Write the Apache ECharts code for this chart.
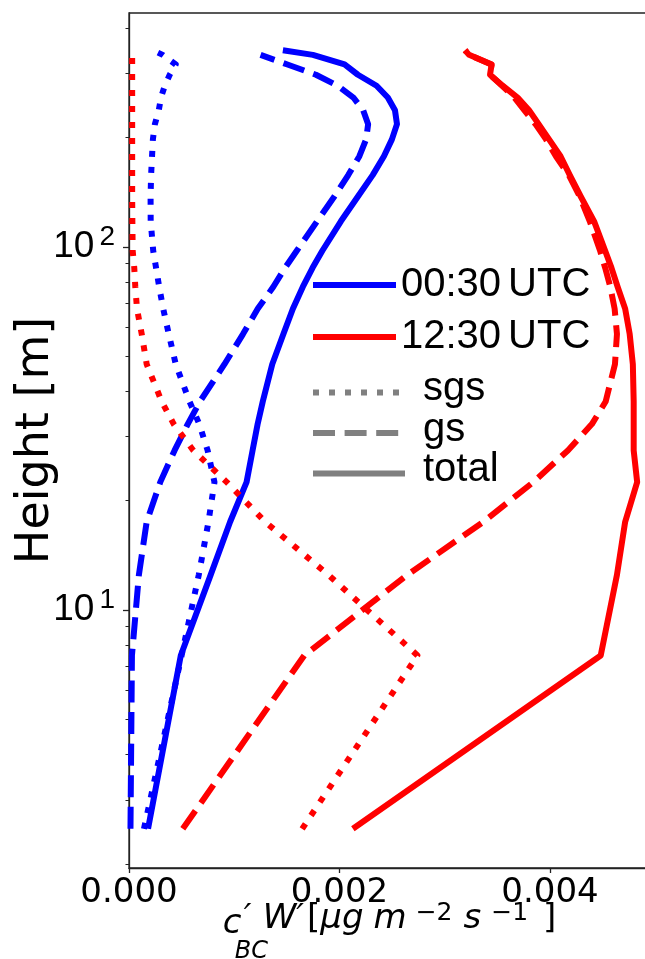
<!DOCTYPE html>
<html>
<head>
<meta charset="utf-8">
<script src="https://cdn.jsdelivr.net/npm/echarts@6/dist/echarts.min.js"></script>
<style>
html,body{margin:0;padding:0;overflow:hidden;background:#fff;}
#c{width:700px;height:959px;}
</style>
</head>
<body>
<div id="c"></div>
<script>
// Heights (m) of the profile levels
const heights = [2.5, 7.5, 12.5, 17.5, 22.5, 27.5, 32.5, 37.5, 47.5, 57.5, 67.5, 77.5, 87.5, 97.5,
  117.5, 137.5, 157.5, 177.5, 197.5, 217.5, 237.5, 257.5, 277.5, 297.5, 317.5, 337.5, 347.5];
// Flux values in units of 1e-3 ug m^-2 s^-1
const blueSgs = [0.142, 0.500, 0.663, 0.755, 0.812, 0.747, 0.668, 0.575, 0.444, 0.378, 0.325, 0.287, 0.257, 0.230,
  0.206, 0.205, 0.210, 0.219, 0.227, 0.246, 0.283, 0.304, 0.340, 0.387, 0.444, 0.320, 0.226];
const blueGs = [0.014, 0.028, 0.094, 0.168, 0.297, 0.433, 0.558, 0.674, 0.907, 1.083, 1.223, 1.370, 1.483, 1.594,
  1.787, 1.951, 2.083, 2.189, 2.253, 2.272, 2.225, 2.132, 1.984, 1.776, 1.505, 1.250, null];
const blueTotal = [0.181, 0.492, 0.776, 0.961, 1.117, 1.174, 1.222, 1.271, 1.361, 1.467, 1.557, 1.651, 1.744, 1.837,
  2.013, 2.175, 2.315, 2.422, 2.498, 2.546, 2.527, 2.459, 2.352, 2.175, 2.048, 1.747, 1.462];
const redSgs = [1.645, 2.741, 1.894, 1.293, 0.929, 0.611, 0.425, 0.311, 0.168, 0.121, 0.076, 0.060, 0.050, 0.035,
  0.032, 0.030, 0.030, 0.030, 0.030, 0.030, 0.030, 0.030, 0.030, 0.030, 0.030, 0.030, null];
const redGs = [0.511, 1.665, 2.645, 3.368, 3.841, 4.170, 4.398, 4.529, 4.617, 4.636, 4.614, 4.573, 4.524, 4.476,
  4.378, 4.282, 4.179, 4.056, 3.962, 3.862, 3.757, 3.662, 3.545, 3.430, 3.445, 3.231, 3.193];
const redTotal = [2.127, 4.482, 4.636, 4.714, 4.828, 4.795, 4.795, 4.795, 4.787, 4.757, 4.714, 4.643, 4.584, 4.524,
  4.419, 4.292, 4.188, 4.100, 3.991, 3.892, 3.801, 3.692, 3.550, 3.430, 3.445, 3.231, 3.193];
const SCALE = 1e-3;

const xTicks = [0, 0.002, 0.004];
const yMajorTicks = [10, 100];
const yMinorTicks = [2, 3, 4, 5, 6, 7, 8, 9, 20, 30, 40, 50, 60, 70, 80, 90, 200, 300, 400];
const timeNames = ['00:30\u2009UTC', '12:30\u2009UTC'];
const kindNames = ['sgs', 'gs', 'total'];

const BLUE = '#0000ff', RED = '#ff0000', GRAY = '#808080';
const LW = 6;
const DOT = [6, 10];
const DASH = [22, 9.6];

function pairs(vals) {
  const out = [];
  heights.forEach((h, i) => { if (vals[i] != null) out.push([vals[i] * SCALE, h]); });
  return out;
}
function mkSeries(name, vals, color, type) {
  return {
    name: name, type: 'line', data: pairs(vals), symbol: 'none', showSymbol: false,
    lineStyle: { color: color, width: LW, type: type, cap: 'butt', join: 'round' },
    itemStyle: { color: color },
    emphasis: { disabled: true }, silent: true
  };
}
function tok(size, h, extra) {
  return Object.assign({ fontFamily: 'DejaVu Sans', fontSize: size, height: h, lineHeight: h, verticalAlign: 'top', align: 'left', color: '#000' }, extra || {});
}

const chart = echarts.init(document.getElementById('c'), null, { renderer: 'canvas' });
const option = {
  animation: false,
  backgroundColor: '#fff',
  grid: { left: 129, right: 50, top: 13, bottom: 91, containLabel: false, outerBoundsMode: 'none',
    show: true, borderColor: '#222', borderWidth: 1.3, backgroundColor: 'transparent' },
  xAxis: {
    type: 'value', min: 0, max: 0.00495,
    axisLine: { show: true, onZero: false, lineStyle: { color: '#222', width: 1.3 } },
    axisTick: { show: true, length: 5, customValues: xTicks, lineStyle: { color: '#222', width: 1.3 } },
    axisLabel: { customValues: xTicks, formatter: v => v.toFixed(3), color: '#000', fontFamily: 'DejaVu Sans', fontSize: 34, margin: 8 },
    splitLine: { show: false },
    name: '{c|c}{sub|BC}{p|\u2032}{W|W\u2032}{lb|[}{mu|\u03bcg}{m|m}{s2|\u22122}{s|s}{s1|\u22121}{rb|]}',
    nameLocation: 'middle', nameGap: 31, nameMoveOverlap: false,
    nameTextStyle: {
      color: '#000', fontFamily: 'DejaVu Sans', fontSize: 34,
      rich: {
        c: tok(34, 51, { fontStyle: 'italic', width: 12 }),
        sub: tok(24, 106, { fontStyle: 'italic', width: 0 }),
        p: tok(34, 40, { fontStyle: 'italic', width: 19, padding: [0, 0, 0, 9] }),
        W: tok(34, 40, { fontStyle: 'italic' }),
        lb: tok(34, 40, { padding: [0, 0, 0, 3] }),
        mu: tok(34, 40, { fontStyle: 'italic' }),
        m: tok(34, 40, { fontStyle: 'italic', padding: [0, 0, 0, 10] }),
        s2: tok(25, 29, { padding: [0, 0, 0, 9] }),
        s: tok(34, 40, { fontStyle: 'italic', padding: [0, 0, 0, 11] }),
        s1: tok(25, 29, { padding: [0, 0, 0, 10] }),
        rb: tok(34, 40, { padding: [0, 0, 0, 15] })
      }
    }
  },
  yAxis: [
    {
      type: 'log', logBase: 10, min: 1.95, max: 440, position: 'left',
      axisLine: { show: true, onZero: false, lineStyle: { color: '#222', width: 1.3 } },
      axisTick: { show: true, length: 6, customValues: yMajorTicks, lineStyle: { color: '#222', width: 1.3 } },
      axisLabel: {
        customValues: yMajorTicks, margin: 14,
        formatter: v => '{b|10}{s|' + Math.round(Math.log10(v)) + '}',
        rich: {
          b: { fontFamily: 'Liberation Sans', fontSize: 37, height: 45, lineHeight: 45, verticalAlign: 'top', color: '#000' },
          s: { fontFamily: 'Liberation Sans', fontSize: 28, height: 26, lineHeight: 26, verticalAlign: 'top', color: '#000', padding: [0, 0, 0, 5] }
        }
      },
      splitLine: { show: false }, minorTick: { show: false },
      name: 'Height [m]', nameLocation: 'middle', nameGap: 70, nameMoveOverlap: false,
      nameTextStyle: { color: '#000', fontFamily: 'DejaVu Sans', fontSize: 46 }
    },
    {
      type: 'log', logBase: 10, min: 1.95, max: 440, position: 'left', offset: 0,
      axisLine: { show: false },
      axisTick: { show: true, length: 3.5, customValues: yMinorTicks, lineStyle: { color: '#222', width: 1 } },
      axisLabel: { show: false },
      splitLine: { show: false }
    }
  ],
  legend: [
    {
      data: timeNames, orient: 'vertical', left: 305, top: 260,
      itemWidth: 83, itemHeight: 40, itemGap: 12, selectedMode: false,
      itemStyle: { opacity: 0, borderWidth: 0 },
      lineStyle: { width: LW, opacity: 1 },
      formatter: n => '{t|' + n.replace('\u2009', '}{sp| }{t|') + '}',
      textStyle: { color: '#000', fontFamily: 'Liberation Sans', fontSize: 40,
        rich: { t: { fontFamily: 'Liberation Sans', fontSize: 40, color: '#000' },
                sp: { fontFamily: 'Liberation Sans', fontSize: 40, width: 7 } } }
    },
    {
      data: kindNames, orient: 'vertical', left: 305, top: 364,
      itemWidth: 92, itemHeight: 40, itemGap: 0.5, selectedMode: false,
      itemStyle: { opacity: 0, borderWidth: 0 },
      lineStyle: { width: LW, opacity: 1 },
      formatter: n => '{t|' + n + '}',
      textStyle: { color: '#000', fontFamily: 'Liberation Sans', fontSize: 40, rich: { t: { fontFamily: 'Liberation Sans', fontSize: 40, color: '#000', padding: [0, 0, 7, 13] } } }
    }
  ],
  series: [
    mkSeries(timeNames[0], blueTotal, BLUE, 'solid'),
    mkSeries('blue gs', blueGs, BLUE, DASH),
    mkSeries('blue sgs', blueSgs, BLUE, DOT),
    mkSeries(timeNames[1], redTotal, RED, 'solid'),
    mkSeries('red gs', redGs, RED, DASH),
    mkSeries('red sgs', redSgs, RED, DOT),
    { name: kindNames[0], type: 'line', data: [], symbol: 'none', lineStyle: { color: GRAY, width: LW, type: DOT, cap: 'butt' }, itemStyle: { color: GRAY } },
    { name: kindNames[1], type: 'line', data: [], symbol: 'none', lineStyle: { color: GRAY, width: LW, type: DASH, cap: 'butt' }, itemStyle: { color: GRAY } },
    { name: kindNames[2], type: 'line', data: [], symbol: 'none', lineStyle: { color: GRAY, width: LW, type: 'solid', cap: 'butt' }, itemStyle: { color: GRAY } }
  ]
};
chart.setOption(option);
</script>
</body>
</html>
